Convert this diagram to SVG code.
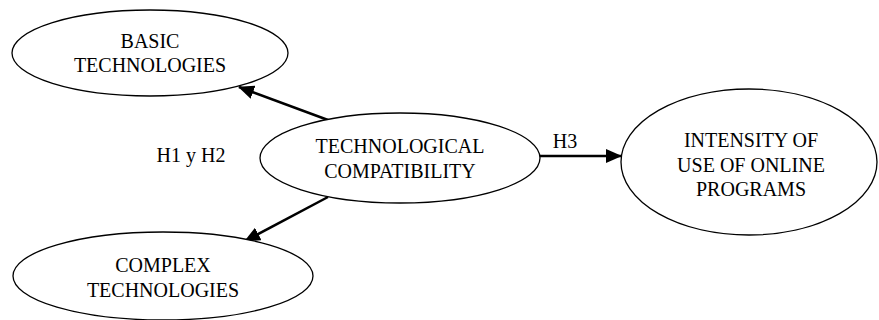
<svg xmlns="http://www.w3.org/2000/svg" width="879" height="320" viewBox="0 0 879 320">
<style>
.n{fill:#fff;stroke:#000;stroke-width:1.3}
.t{font-family:'Liberation Serif','Times New Roman',serif;font-size:20px;fill:#000;text-anchor:middle}
.e{stroke:#000;stroke-width:2.5;fill:none}
</style>
<defs>
<marker id="a" markerWidth="16" markerHeight="14" refX="15" refY="7" orient="auto" markerUnits="userSpaceOnUse">
<path d="M0,0 L16,7 L0,14 Z" fill="#000"/>
</marker>
</defs>
<rect width="879" height="320" fill="#fff"/>
<g id="edges">
<line class="e" x1="328" y1="120" x2="239" y2="87" marker-end="url(#a)"/>
<line class="e" x1="328" y1="197" x2="245" y2="241" marker-end="url(#a)"/>
<line class="e" x1="540" y1="156" x2="621" y2="156" marker-end="url(#a)"/>
<text class="t" x="565" y="148">H3</text>
<text class="t" x="191" y="162">H1 y H2</text>
</g>
<g id="basic">
<ellipse class="n" cx="150" cy="53" rx="138" ry="43"/>
<text class="t" x="150" y="48">BASIC</text>
<text class="t" x="150" y="72">TECHNOLOGIES</text>
</g>
<g id="compat">
<ellipse class="n" cx="400" cy="158" rx="140" ry="45"/>
<text class="t" x="400" y="153">TECHNOLOGICAL</text>
<text class="t" x="400" y="178">COMPATIBILITY</text>
</g>
<g id="intensity">
<ellipse class="n" cx="749" cy="162" rx="128" ry="73"/>
<text class="t" x="751" y="147">INTENSITY OF</text>
<text class="t" x="751" y="172">USE OF ONLINE</text>
<text class="t" x="751" y="196">PROGRAMS</text>
</g>
<g id="complex">
<ellipse class="n" cx="163" cy="276" rx="150" ry="44"/>
<text class="t" x="163" y="272">COMPLEX</text>
<text class="t" x="163" y="297">TECHNOLOGIES</text>
</g>
</svg>
